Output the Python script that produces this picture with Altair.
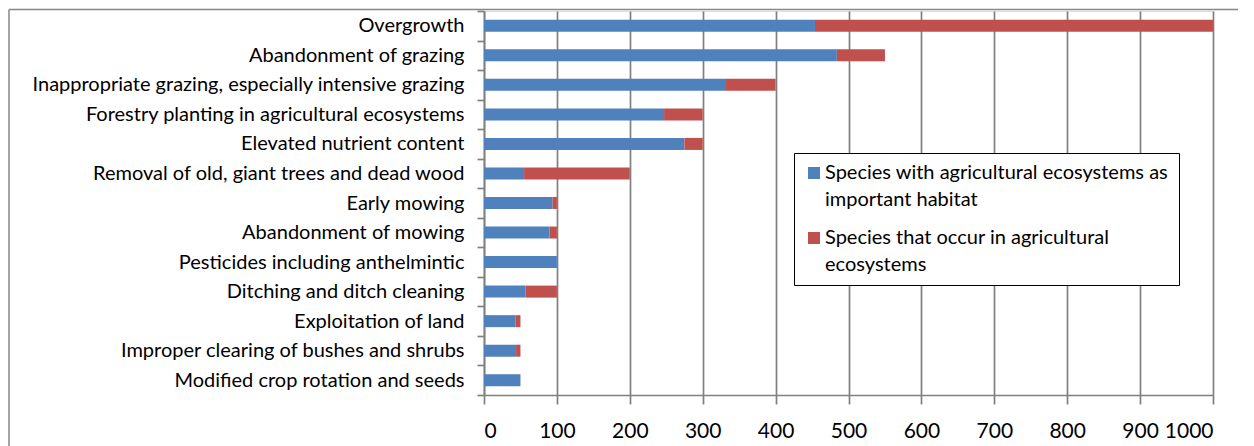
import altair as alt
import pandas as pd

categories = [
    "Overgrowth",
    "Abandonment of grazing",
    "Inappropriate grazing, especially intensive grazing",
    "Forestry planting in agricultural ecosystems",
    "Elevated nutrient content",
    "Removal of old, giant trees and dead wood",
    "Early mowing",
    "Abandonment of mowing",
    "Pesticides including anthelmintic",
    "Ditching and ditch cleaning",
    "Exploitation of land",
    "Improper clearing of bushes and shrubs",
    "Modified crop rotation and seeds",
]
important_habitat = [454, 484, 332, 247, 275, 55, 94, 90, 100, 57, 43, 44, 50]
occur_in = [546, 66, 68, 53, 25, 145, 6, 10, 0, 43, 7, 6, 0]
series = [
    "Species with agricultural ecosystems as important habitat",
    "Species that occur in agricultural ecosystems",
]
colors = ["#4F81BD", "#C0504D"]
x_ticks = [0, 100, 200, 300, 400, 500, 600, 700, 800, 900, 1000]

rows = []
for c, a, b in zip(categories, important_habitat, occur_in):
    rows.append({"cat": c, "series": series[0], "value": a, "ord": 0})
    rows.append({"cat": c, "series": series[1], "value": b, "ord": 1})
df = pd.DataFrame(rows)

FONT = "Lato"
W, H = 729, 384

label_expr = (
    f"datum.label == '{series[0]}' ? ['Species with agricultural ecosystems as', 'important habitat'] "
    ": ['Species that occur in agricultural', 'ecosystems']"
)

bars = alt.Chart(df).mark_bar(size=12).encode(
    x=alt.X(
        "value:Q",
        stack="zero",
        scale=alt.Scale(domain=[0, 1000], nice=False),
        axis=alt.Axis(
            values=x_ticks,
            format="d",
            title=None,
            grid=True,
            gridColor="#808080",
            gridWidth=1.7,
            domainColor="#808080",
            domainWidth=1.7,
            tickColor="#808080",
            tickWidth=1.7,
            tickSize=9,
            labelPadding=16,
            labelFont=FONT,
            labelFontSize=21,
            labelColor="#000000",
        ),
    ),
    y=alt.Y(
        "cat:N",
        sort=categories,
        scale=alt.Scale(paddingInner=0, paddingOuter=0),
        axis=alt.Axis(
            title=None,
            tickBand="extent",
            domainColor="#808080",
            domainWidth=1.7,
            tickColor="#808080",
            tickWidth=1.7,
            tickSize=7,
            labelPadding=13,
            labelFont=FONT,
            labelFontSize=20,
            labelColor="#000000",
            labelLimit=600,
        ),
    ),
    color=alt.Color(
        "series:N",
        scale=alt.Scale(domain=series, range=colors),
        legend=alt.Legend(
            title=None,
            orient="none",
            legendX=310,
            legendY=142,
            padding=10,
            rowPadding=18,
            strokeColor="#000000",
            fillColor="#ffffff",
            symbolSize=144,
            symbolType="square",
            symbolStrokeWidth=0,
            labelFont=FONT,
            labelFontSize=20,
            labelColor="#000000",
            labelLimit=500,
            labelOffset=1,
            labelExpr=label_expr,
        ),
    ),
    order=alt.Order("ord:Q"),
)

frame_df = pd.DataFrame({"k": [0]})
left_frame = alt.Chart(frame_df).mark_rule(color="#868686", strokeWidth=1.5).encode(
    x=alt.value(-475), y=alt.value(-1.5), y2=alt.value(H + 60)
)
top_frame = alt.Chart(frame_df).mark_rule(color="#868686", strokeWidth=1.5).encode(
    x=alt.value(-475), x2=alt.value(W + 60), y=alt.value(-1.5)
)

chart = (
    alt.layer(bars, left_frame, top_frame)
    .properties(
        width=W,
        height=H,
        autosize=alt.AutoSizeParams(type="none"),
        padding={"left": 476, "top": 3, "right": 25, "bottom": 60},
    )
    .configure_view(stroke=None)
    .configure(background="#ffffff", style={"guide-label": {"lineHeight": 27}})
)

chart.save("out.html", embed_options={"renderer": "svg", "actions": False})
